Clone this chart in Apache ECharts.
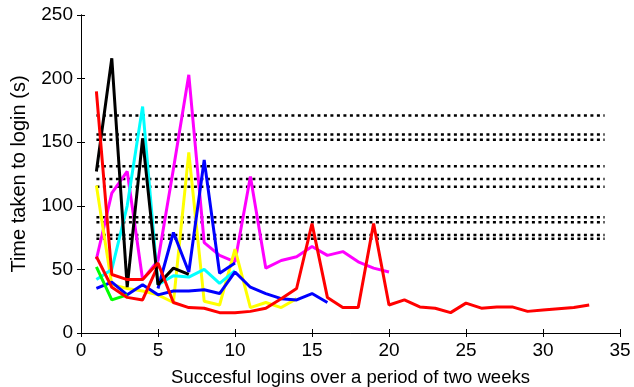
<!DOCTYPE html>
<html>
<head>
<meta charset="utf-8">
<script src="https://cdn.jsdelivr.net/npm/echarts@6/dist/echarts.min.js"></script>
<style>
  html, body { margin: 0; padding: 0; background: #fff; }
  #chart { width: 634px; height: 387px; }
</style>
</head>
<body>
<div id="chart"></div>
<script>
// login times per user, first point is login 1
const redLong = [190, 46, 42, 42, 55, 24, 20, 19.5, 16, 16, 17, 19.5, 27, 35, 86, 28, 20, 20, 86, 22, 26, 20.5, 19.5, 16, 23.5, 19.5, 20.5, 20.5, 17, 18, 19, 20, 22]
const redShort = [60, 36, 28, 26, 53]
const black = [127, 216, 36, 153, 38, 51, 46]
const cyan = [42, 50, 100, 178, 38, 45, 44, 50, 39, 49]
const magenta = [58, 110, 127, 42, 57, 129, 203, 71, 61, 56, 123, 51, 57, 60, 68, 61, 64, 56, 51, 48]
const yellow = [116, 38, 35, 33, 30, 24, 142, 25, 22, 66, 20, 24, 20, 27]
const blueLow = [35, 40, 30, 38, 30, 33, 33, 34, 31, 48, 36, 31, 27, 26, 31, 24]
const blueHigh = [35, 79, 48, 136, 47, 55]  // starts at login 5
const green = [52, 26, 30]

// dotted threshold levels
const thresholds = [171, 156, 152, 131, 121, 115, 91, 87, 77, 74]
const thresholdSpan = [1, 34]

const xTicks = { min: 0, max: 35, interval: 5 }
const yTicks = { min: 0, max: 250, interval: 50 }

const toPairs = (arr, start) => arr.map((v, i) => [i + start, v])

const lineSeries = (data, color, start) => ({
  type: 'line',
  data: toPairs(data, start || 1),
  showSymbol: false,
  symbol: 'none',
  lineStyle: { color: color, width: 3 },
  itemStyle: { color: color },
  animation: false,
  z: 3
})

const series = []
thresholds.forEach(t => {
  series.push({
    type: 'line',
    data: thresholdSpan.map(x => [x, t]),
    symbol: 'none',
    lineStyle: { color: '#000', width: 2.5, type: [3, 3.5] },
    animation: false,
    z: 2
  })
})
series.push(lineSeries(magenta, '#ff00ff'))
series.push(lineSeries(yellow, '#ffff00'))
series.push(lineSeries(cyan, '#00ffff'))
series.push(lineSeries(blueLow, '#0000ff'))
series.push(lineSeries(blueHigh, '#0000ff', 5))
series.push(lineSeries(green, '#00ff00'))
series.push(lineSeries(redShort, '#ff0000'))
series.push(lineSeries(black, '#000000'))
series.push(lineSeries(redLong, '#ff0000'))

const font = 'Liberation Sans, Arial, sans-serif'
const tickLabel = { color: '#000', fontSize: 19, fontFamily: font }
const axisLine = { show: true, lineStyle: { color: '#000', width: 1 } }

const option = {
  animation: false,
  grid: { left: 81, right: 14, top: 15, bottom: 54, outerBoundsMode: 'none', containLabel: false },
  xAxis: [
    {
      type: 'value', ...xTicks,
      name: 'Succesful logins over a period of two weeks',
      nameLocation: 'middle', nameGap: 35,
      nameTextStyle: { color: '#000', fontSize: 18.5, fontFamily: font },
      axisLine: axisLine,
      axisTick: { inside: true, length: 4, lineStyle: { color: '#000' } },
      axisLabel: { ...tickLabel, margin: 8 },
      splitLine: { show: false }
    },
    {
      type: 'value', ...xTicks, position: 'top',
      axisLine: axisLine,
      axisTick: { inside: true, length: 4, lineStyle: { color: '#000' } },
      axisLabel: { show: false },
      splitLine: { show: false }
    }
  ],
  yAxis: [
    {
      type: 'value', ...yTicks,
      name: 'Time taken to login (s)',
      nameLocation: 'middle', nameGap: 52,
      nameTextStyle: { color: '#000', fontSize: 20, fontFamily: font },
      axisLine: axisLine,
      axisTick: { show: true, inside: true, length: 4, lineStyle: { color: '#000' } },
      axisLabel: { ...tickLabel, margin: 8 },
      splitLine: { show: false }
    },
    {
      type: 'value', ...yTicks, position: 'right',
      axisLine: axisLine,
      axisTick: { show: true, inside: true, length: 4, lineStyle: { color: '#000' } },
      axisLabel: { show: false },
      splitLine: { show: false }
    }
  ],
  series: series
}

const chart = echarts.init(document.getElementById('chart'))
chart.setOption(option)
window.addEventListener('resize', () => {
  chart.resize()
})
</script>
</body>
</html>
